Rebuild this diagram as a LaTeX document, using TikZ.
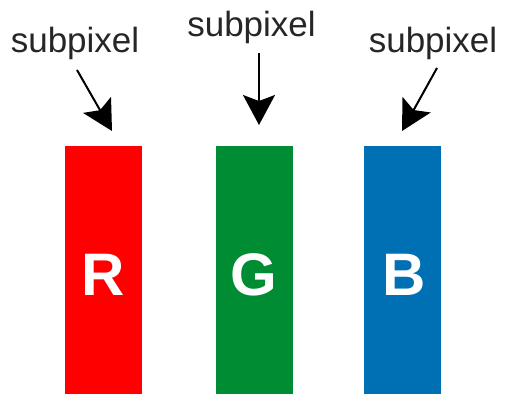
\documentclass[tikz,border=0pt]{standalone}
\usepackage{fontspec}
\setmainfont{Liberation Sans}
\usepackage{xcolor}
\usetikzlibrary{arrows.meta,positioning}
\definecolor{subred}{HTML}{FF0000}
\definecolor{subgreen}{HTML}{008C33}
\definecolor{subblue}{HTML}{0070B4}
\tikzset{
  subbar/.style={draw=none, minimum width=77pt, minimum height=248pt,
                 inner sep=0pt, anchor=north},
  letter/.style={font=\fontsize{60}{60}\selectfont\bfseries, text=white,
                 inner sep=0pt},
  tag/.style={font=\fontsize{35}{35}\selectfont, anchor=base, inner sep=0pt,
              text=black!85},
  pointer/.style={-{Stealth[length=30pt, width=32pt, inset=6pt]},
                  line width=2pt, black},
}
\begin{document}
\begin{tikzpicture}[x=1pt, y=-1pt]
  \useasboundingbox (0,0) rectangle (505,394);
  \node[subbar, fill=subred]   (red)   at (103.5,146) {};
  \node[subbar, fill=subgreen] (green) at (254,146)   {};
  \node[subbar, fill=subblue]  (blue)  at (402,146)   {};
  \node[letter] (r) at ([yshift=-5pt]red.center)   {R};
  \node[letter] (g) at ([yshift=-5pt]green.center) {G};
  \node[letter] (b) at ([yshift=-5pt,xshift=2pt]blue.center) {B};
  \node[tag] (lab1) at (75,52.5)  {subpixel};
  \node[tag] (lab2) at (251.5,36) {subpixel};
  \node[tag] (lab3) at (433,52.5) {subpixel};
  \draw[pointer] ([xshift=2pt,yshift=-10pt]lab1.south)
    -- ([xshift=8.5pt,yshift=15pt]red.north);
  \draw[pointer] ([xshift=7.5pt,yshift=-10pt]lab2.south)
    -- ([xshift=5pt,yshift=21pt]green.north);
  \draw[pointer] ([xshift=4pt,yshift=-8pt]lab3.south)
    -- ([yshift=15pt]blue.north);
\end{tikzpicture}
\end{document}
